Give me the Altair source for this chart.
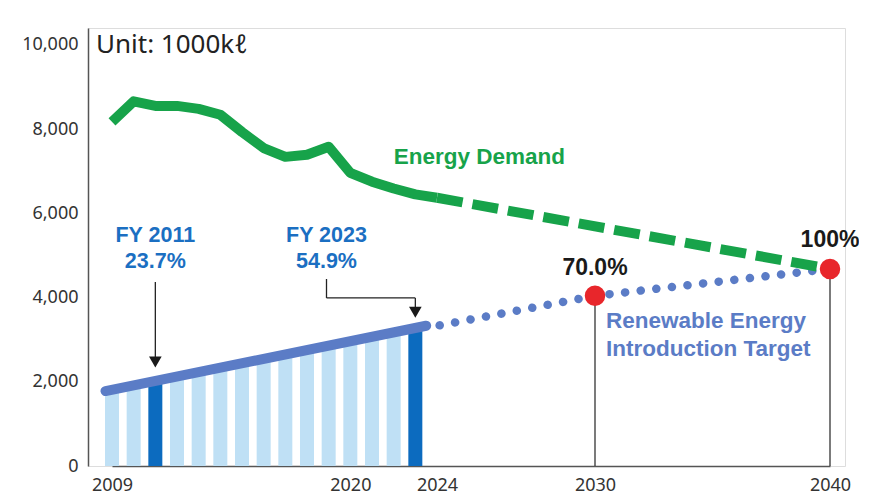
import altair as alt
import pandas as pd

# ---------------- data ----------------
bar_years = list(range(2009, 2024))
bar_values = [1880, 1980, 2090, 2190, 2300, 2400, 2510, 2610, 2720, 2820, 2930, 3030, 3140, 3240, 3350]
highlight_years = [2011, 2023]

demand_years = list(range(2009, 2025))
demand_values = [8170, 8660, 8550, 8550, 8480, 8340, 7930, 7550, 7340, 7390, 7580, 6960, 6750, 6590, 6450, 6370]

demand_proj_years = [2024, 2040]
demand_proj_values = [6370, 4680]

renew_years = [2008.7, 2023.5]
renew_values = [1780, 3330]

renew_target_years = [2024.1, 2030, 2040]
renew_target_values = [3340, 4040, 4680]

target_years = [2030, 2040]
target_values = [4040, 4680]
target_labels = ["70.0%", "100%"]
target_label_values = [4700, 5370]

x_ticks = [2009, 2020, 2024, 2030, 2040]
y_ticks = [0, 2000, 4000, 6000, 8000, 10000]

# annotation texts (placed in data units)
fy_x = [2011, 2011, 2018.9, 2018.9]
fy_y = [5460, 4850, 5460, 4850]
fy_text = ["FY 2011", "23.7%", "FY 2023", "54.9%"]

arrow_x = [2011, 2018.9, 2018.9, 2023]
arrow_x2 = [2011, 2018.9, 2023, 2023]
arrow_y = [4370, 4440, 3990, 3990]
arrow_y2 = [2560, 3990, 3990, 3720]
head_x = [2011, 2023]
head_y = [2470, 3650]

# ---------------- chart ----------------
GREEN = "#17a34a"
RBLUE = "#5b7cc6"
LABEL_BLUE = "#1b6fc2"
FONT_B = "Liberation Sans"

xscale = alt.Scale(domain=[2009, 2024, 2030, 2040], range=[24, 349, 507, 742],
                   nice=False, zero=False, padding=0)
yscale = alt.Scale(domain=[0, 10400], nice=False, padding=0)

xaxis = alt.Axis(values=x_ticks, format="d", ticks=False, grid=False, title=None,
                 labelFontSize=18, labelFont="Noto Sans", labelColor="#333", labelPadding=10,
                 domainColor="#555", domainWidth=1.5, labelFlush=False)
yaxis = alt.Axis(values=y_ticks, format=",d", ticks=False, grid=False, title=None,
                 labelFontSize=18, labelFont="Noto Sans", labelColor="#333", labelPadding=10,
                 domainColor="#555", domainWidth=1.5)

bars_df = pd.DataFrame({"year": bar_years, "value": bar_values})
bars_df["hl"] = bars_df["year"].isin(highlight_years)

X = lambda f: alt.X(f, type="quantitative", scale=xscale, axis=xaxis)
Y = lambda f: alt.Y(f, type="quantitative", scale=yscale, axis=yaxis)

bars = alt.Chart(bars_df).mark_bar(size=14).encode(
    x=X("year"), y=Y("value"),
    color=alt.Color("hl:N", scale=alt.Scale(domain=[False, True], range=["#bfe0f5", "#0c6bbf"]), legend=None),
)

demand = alt.Chart(pd.DataFrame({"year": demand_years, "value": demand_values})).mark_line(
    color=GREEN, strokeWidth=10, strokeJoin="round", strokeCap="butt"
).encode(x=X("year"), y=Y("value"))

demand_proj = alt.Chart(pd.DataFrame({"year": demand_proj_years, "value": demand_proj_values})).mark_line(
    color=GREEN, strokeWidth=10, strokeDash=[26, 10]
).encode(x=X("year"), y=Y("value"))

renew = alt.Chart(pd.DataFrame({"year": renew_years, "value": renew_values})).mark_line(
    color=RBLUE, strokeWidth=10, strokeCap="round"
).encode(x=X("year"), y=Y("value"))

renew_target = alt.Chart(pd.DataFrame({"year": renew_target_years, "value": renew_target_values})).mark_line(
    color=RBLUE, strokeWidth=8.5, strokeDash=[0.1, 15.6], strokeCap="round"
).encode(x=X("year"), y=Y("value"))

tdf = pd.DataFrame({"year": target_years, "value": target_values, "zero": [0, 0],
                    "label": target_labels, "ly": target_label_values})

drops = alt.Chart(tdf).mark_rule(color="#333", strokeWidth=1.3).encode(
    x=X("year"), y=Y("value"), y2="zero")

points = alt.Chart(tdf).mark_circle(color="#e8262b", opacity=1, size=420).encode(
    x=X("year"), y=Y("value"))

target_text = alt.Chart(tdf).mark_text(font=FONT_B, fontWeight="bold", fontSize=23, color="#1a1a1a",
                                       baseline="middle", align="center").encode(
    x=X("year"), y=Y("ly"), text="label")

adf = pd.DataFrame({"x": arrow_x, "x2": arrow_x2, "y": arrow_y, "y2": arrow_y2})
arrows = alt.Chart(adf).mark_rule(color="#222", strokeWidth=1.3).encode(
    x=X("x"), x2="x2", y=Y("y"), y2="y2")

heads = alt.Chart(pd.DataFrame({"x": head_x, "y": head_y})).mark_point(
    shape="triangle-down", filled=True, color="#1a1a1a", opacity=1, size=160).encode(
    x=X("x"), y=Y("y"))

fy_text_layer = alt.Chart(pd.DataFrame({"x": fy_x, "y": fy_y, "t": fy_text})).mark_text(
    font=FONT_B, fontWeight="bold", fontSize=21.5, color=LABEL_BLUE, align="center", baseline="middle").encode(
    x=X("x"), y=Y("y"), text="t")

demand_label = alt.Chart(pd.DataFrame({"x": [2022.0], "y": [7340], "t": ["Energy Demand"]})).mark_text(
    font=FONT_B, fontWeight="bold", fontSize=22.5, color=GREEN, align="left", baseline="middle").encode(
    x=X("x"), y=Y("y"), text="t")

renew_label = alt.Chart(pd.DataFrame({"x": [2030.47, 2030.47], "y": [3445, 2780],
                                      "t": ["Renewable Energy", "Introduction Target"]})).mark_text(
    font=FONT_B, fontWeight="bold", fontSize=22.5, color=RBLUE, align="left", baseline="middle").encode(
    x=X("x"), y=Y("y"), text="t")

unit_label = alt.Chart(pd.DataFrame({"x": [2008.26], "y": [10000], "t": ["Unit: 1000kℓ"]})).mark_text(
    font="Noto Sans", fontSize=26, color="#222", align="left", baseline="middle").encode(
    x=X("x"), y=Y("y"), text="t")

chart = alt.layer(
    bars, renew, renew_target, demand, demand_proj, drops, points, arrows, heads,
    fy_text_layer, demand_label, renew_label, target_text, unit_label
).properties(
    width=757, height=438,
    autosize=alt.AutoSizeParams(type="none"),
    padding={"left": 80, "top": 20, "right": 14, "bottom": 32},
).configure_view(stroke=None).configure(background="white")

chart.save("out.html", embed_options={"renderer": "svg", "actions": False})
